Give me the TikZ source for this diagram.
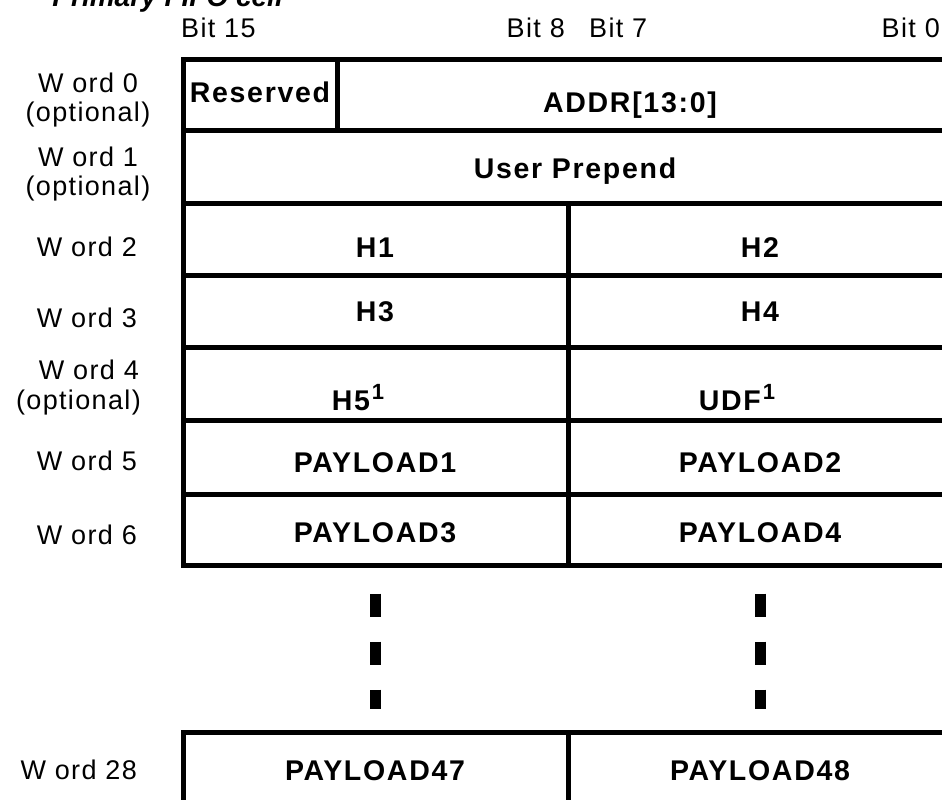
\documentclass[tikz,border=0pt]{standalone}
\usepackage{fontspec}
\usetikzlibrary{fit}
\setmainfont{Liberation Sans}
\newfontfamily\lblfont{Liberation Sans}[LetterSpace=5]
\newfontfamily\boxfont{Liberation Sans}[LetterSpace=6]
\newfontfamily\ttlfont{Liberation Sans}
\begin{document}
\begin{tikzpicture}[x=1pt,y=-1pt,
  cell/.style={draw, line width=5pt, inner sep=0pt},
  lbl/.style={inner sep=0pt, text height=19.3pt, text depth=0pt, font=\lblfont\fontsize{27}{30}\selectfont},
  boxtxt/.style={inner sep=0pt, text height=20.4pt, text depth=0pt, font=\boxfont\bfseries\fontsize{28.5}{31}\selectfont},
  supnum/.style={font=\boxfont\bfseries\fontsize{22}{22}\selectfont},
  dots/.style={line width=11pt, dash pattern=on 23pt off 25pt, shorten <=26pt, shorten >=21pt}]
\useasboundingbox (0,0) rectangle (942,800);
\clip (0,0) rectangle (942,800);
% title fragment
\node[anchor=base east, inner sep=0pt, font=\ttlfont\bfseries\itshape\fontsize{28}{30}\selectfont] (title) at (283,7) {Primary FIFO cell};
% bit labels
\node[lbl, anchor=west] (b15) at (181,28) {Bit 15};
\node[lbl, anchor=east] (b8) at (565,28) {Bit 8};
\node[lbl, anchor=west] (b7) at (589,28) {Bit 7};
\node[lbl, anchor=east] (b0) at (940,28) {Bit 0};
% cells
\node[cell, fit={(183,60) (337,130)}] (res) {};
\node[cell, fit={(337,60) (952,130)}] (addr) {};
\node[cell, fit={(183,130) (952,203)}] (up) {};
\node[cell, fit={(183,203) (568,275)}] (h1) {};
\node[cell, fit={(568,203) (952,275)}] (h2) {};
\node[cell, fit={(183,275) (568,347)}] (h3) {};
\node[cell, fit={(568,275) (952,347)}] (h4) {};
\node[cell, fit={(183,347) (568,420)}] (h5) {};
\node[cell, fit={(568,347) (952,420)}] (udf) {};
\node[cell, fit={(183,420) (568,494)}] (p1) {};
\node[cell, fit={(568,420) (952,494)}] (p2) {};
\node[cell, fit={(183,494) (568,565)}] (p3) {};
\node[cell, fit={(568,494) (952,565)}] (p4) {};
\node[cell, fit={(183,732) (568,812)}] (p47) {};
\node[cell, fit={(568,732) (952,812)}] (p48) {};
% cell texts
\node[boxtxt] (tres) at (260,92) {Reserved};
\node[boxtxt] (taddr) at (630,102) {ADDR[13:0]};
\node[boxtxt] (tup) at (575,168) {User Prepend};
\node[boxtxt] (th1) at (375,247) {H1};
\node[boxtxt] (th2) at (760,247) {H2};
\node[boxtxt] (th3) at (375,311) {H3};
\node[boxtxt] (th4) at (760,311) {H4};
\node[boxtxt] (th5) at (358,400) {H5\kern2pt\raisebox{11pt}{\fontsize{22}{22}\selectfont 1}};
\node[boxtxt] (tudf) at (737,400) {UDF\kern2pt\raisebox{11pt}{\fontsize{22}{22}\selectfont 1}};
\node[boxtxt] (tp1) at (375,462) {PAYLOAD1};
\node[boxtxt] (tp2) at (760,462) {PAYLOAD2};
\node[boxtxt] (tp3) at (375,532) {PAYLOAD3};
\node[boxtxt] (tp4) at (760,532) {PAYLOAD4};
\node[boxtxt] (tp47) at (375,770) {PAYLOAD47};
\node[boxtxt] (tp48) at (760,770) {PAYLOAD48};
% continuation dashes
\draw[dots] (p3.south) -- (p47.north -| p3.south);
\draw[dots] (p4.south -| tp4) -- (p48.north -| tp4);
% word labels
\node[lbl] (w0a) at (88,83) {W ord 0};
\node[lbl] (w0b) at (88,112) {(optional)};
\node[lbl] (w1a) at (88,157) {W ord 1};
\node[lbl] (w1b) at (88,186) {(optional)};
\node[lbl, anchor=east] (w2) at (137,247) {W ord 2};
\node[lbl, anchor=east] (w3) at (137,318) {W ord 3};
\node[lbl, anchor=east] (w4a) at (139,370) {W ord 4};
\node[lbl, anchor=east] (w4b) at (141,400) {(optional)};
\node[lbl, anchor=east] (w5) at (137,461) {W ord 5};
\node[lbl, anchor=east] (w6) at (137,535) {W ord 6};
\node[lbl, anchor=east] (w28) at (137,770) {W ord 28};
\end{tikzpicture}
\end{document}
